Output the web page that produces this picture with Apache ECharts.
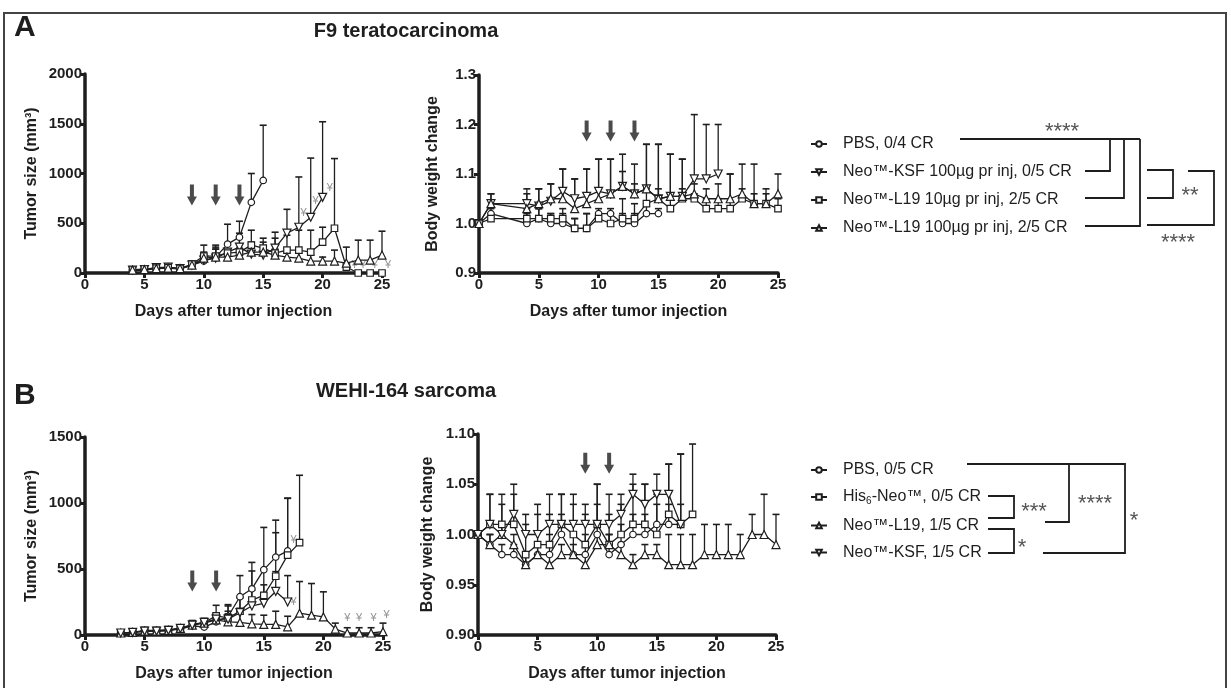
<!DOCTYPE html>
<html>
<head>
<meta charset="utf-8">
<title>F9 / WEHI-164 tumor growth and body weight</title>
<script src="https://cdn.jsdelivr.net/npm/echarts@6.0.0/dist/echarts.min.js"></script>
<style>
    html, body { margin: 0; padding: 0; background: #fff; }
    #chart { width: 1231px; height: 688px; }
</style>
</head>
<body>
<div id="chart"></div>
<script>
// ---------- data ----------
// A: F9 teratocarcinoma, tumor size (mm3)
const aTumorDays = [4, 5, 6, 7, 8, 9, 10, 11, 12, 13, 14, 15, 16, 17, 18, 19, 20, 21, 22, 23, 24, 25];
const aTumorPBS = [25, 30, 45, 50, 40, 80, 120, 160, 290, 360, 710, 930, null, null, null, null, null, null, null, null, null, null];
const aTumorPBSErr = [15, 20, 25, 25, 20, 35, 60, 100, 200, 160, 290, 555, 0, 0, 0, 0, 0, 0, 0, 0, 0, 0];
const aTumorKSF = [30, 35, 55, 60, 45, 80, 130, 150, 210, 260, 190, 180, 250, 400, 460, 560, 760, null, null, null, null, null];
const aTumorKSFErr = [10, 10, 15, 15, 10, 30, 60, 90, 90, 140, 100, 80, 100, 240, 505, 595, 760, 0, 0, 0, 0, 0];
const aTumorL19lo = [30, 40, 50, 55, 45, 90, 170, 170, 200, 210, 280, 250, 200, 230, 230, 210, 310, 450, 60, 0, 0, 0];
const aTumorL19loErr = [10, 15, 20, 20, 10, 30, 110, 110, 80, 150, 150, 100, 210, 150, 200, 220, 150, 700, 40, 0, 0, 0];
const aTumorL19hi = [30, 35, 45, 50, 45, 80, 150, 160, 160, 180, 210, 210, 180, 160, 150, 120, 120, 120, 100, 130, 130, 180];
const aTumorL19hiErr = [10, 10, 15, 15, 10, 25, 60, 80, 60, 70, 100, 100, 60, 50, 50, 60, 40, 110, 160, 200, 200, 240];

// A: body weight change
const aBodyDays = [0, 1, 4, 5, 6, 7, 8, 9, 10, 11, 12, 13, 14, 15, 16, 17, 18, 19, 20, 21, 22, 23, 24, 25];
const aBodyPBS = [1.00, 1.02, 1.00, 1.01, 1.00, 1.00, 0.99, 0.99, 1.02, 1.02, 1.00, 1.00, 1.02, 1.02, null, null, null, null, null, null, null, null, null, null];
const aBodyPBSErr = [0, 0.01, 0.02, 0.02, 0.02, 0.02, 0.02, 0.03, 0.01, 0.01, 0.02, 0.02, 0.02, 0.01, 0, 0, 0, 0, 0, 0, 0, 0, 0, 0];
const aBodyKSF = [1.00, 1.04, 1.04, 1.035, 1.045, 1.065, 1.05, 1.055, 1.065, 1.06, 1.075, 1.06, 1.07, 1.05, 1.055, 1.055, 1.09, 1.09, 1.10, null, null, null, null, null];
const aBodyKSFErr = [0, 0.02, 0.03, 0.035, 0.035, 0.045, 0.04, 0.055, 0.065, 0.07, 0.03, 0.02, 0.09, 0.11, 0.085, 0.075, 0.13, 0.11, 0.10, 0, 0, 0, 0, 0];
const aBodyL19lo = [1.00, 1.01, 1.01, 1.01, 1.01, 1.01, 0.99, 0.99, 1.01, 1.00, 1.01, 1.01, 1.04, 1.05, 1.03, 1.05, 1.05, 1.03, 1.03, 1.03, 1.05, 1.04, 1.04, 1.03];
const aBodyL19loErr = [0, 0.01, 0.02, 0.02, 0.01, 0.02, 0.02, 0.03, 0.01, 0.02, 0.04, 0.03, 0.03, 0.02, 0.03, 0.02, 0.01, 0.02, 0.02, 0.07, 0.02, 0.02, 0.02, 0.02];
const aBodyL19hi = [1.00, 1.04, 1.03, 1.04, 1.05, 1.05, 1.03, 1.04, 1.05, 1.06, 1.075, 1.06, 1.07, 1.05, 1.055, 1.055, 1.06, 1.05, 1.05, 1.05, 1.06, 1.04, 1.04, 1.06];
const aBodyL19hiErr = [0, 0.02, 0.03, 0.03, 0.03, 0.06, 0.06, 0.07, 0.08, 0.07, 0.065, 0.06, 0.09, 0.11, 0.085, 0.075, 0.02, 0.02, 0.03, 0.05, 0.06, 0.08, 0.03, 0.04];

// B: WEHI-164 sarcoma, tumor size (mm3)
const bTumorDays = [3, 4, 5, 6, 7, 8, 9, 10, 11, 12, 13, 14, 15, 16, 17, 18, 19, 20, 21, 22, 23, 24, 25];
const bTumorPBS = [15, 20, 30, 30, 35, 45, 70, 60, 100, 140, 290, 350, 495, 590, 637, null, null, null, null, null, null, null, null];
const bTumorPBSErr = [5, 10, 10, 10, 10, 20, 30, 30, 60, 80, 160, 200, 320, 280, 400, 0, 0, 0, 0, 0, 0, 0, 0];
const bTumorHis = [15, 20, 35, 35, 40, 50, 80, 95, 145, 130, 180, 265, 300, 445, 605, 700, null, null, null, null, null, null, null];
const bTumorHisErr = [5, 10, 10, 10, 10, 20, 30, 30, 80, 100, 100, 220, 200, 330, 430, 510, 0, 0, 0, 0, 0, 0, 0];
const bTumorL19 = [15, 20, 30, 30, 35, 50, 75, 90, 115, 100, 95, 85, 80, 80, 62, 165, 150, 137, 45, 15, 15, 15, 25];
const bTumorL19Err = [5, 10, 10, 10, 10, 20, 30, 30, 40, 60, 70, 70, 70, 100, 80, 240, 240, 190, 45, 40, 40, 40, 65];
const bTumorKSF = [15, 20, 30, 30, 35, 50, 75, 95, 120, 120, 170, 220, 240, 330, 250, null, null, null, null, null, null, null, null];
const bTumorKSFErr = [5, 10, 10, 10, 10, 20, 30, 30, 40, 60, 120, 120, 140, 150, 200, 0, 0, 0, 0, 0, 0, 0, 0];

// B: body weight change
const bBodyDays = [0, 1, 2, 3, 4, 5, 6, 7, 8, 9, 10, 11, 12, 13, 14, 15, 16, 17, 18, 19, 20, 21, 22, 23, 24, 25];
const bBodyPBS = [1.00, 0.99, 0.98, 0.98, 0.97, 0.98, 0.98, 1.00, 0.98, 0.98, 1.00, 0.98, 0.99, 1.00, 1.00, 1.01, 1.01, 1.01, null, null, null, null, null, null, null, null];
const bBodyPBSErr = [0, 0.01, 0.01, 0.01, 0.01, 0.01, 0.02, 0.02, 0.02, 0.02, 0.03, 0.02, 0.02, 0.02, 0.02, 0.02, 0.02, 0.02, 0, 0, 0, 0, 0, 0, 0, 0];
const bBodyHis = [1.00, 1.01, 1.01, 1.01, 0.98, 0.99, 0.99, 1.01, 1.00, 0.99, 1.01, 0.99, 1.00, 1.01, 1.01, 1.00, 1.02, 1.01, 1.02, null, null, null, null, null, null, null];
const bBodyHisErr = [0, 0.03, 0.03, 0.03, 0.03, 0.03, 0.03, 0.03, 0.03, 0.03, 0.04, 0.03, 0.03, 0.04, 0.04, 0.04, 0.05, 0.07, 0.07, 0, 0, 0, 0, 0, 0, 0];
const bBodyL19 = [1.00, 0.99, 1.00, 0.99, 0.97, 0.98, 0.97, 0.98, 0.98, 0.97, 0.99, 0.99, 0.98, 0.97, 0.98, 0.98, 0.97, 0.97, 0.97, 0.98, 0.98, 0.98, 0.98, 1.00, 1.00, 0.99];
const bBodyL19Err = [0, 0.01, 0.01, 0.01, 0.01, 0.01, 0.01, 0.01, 0.01, 0.01, 0.01, 0.01, 0.01, 0.01, 0.01, 0.01, 0.03, 0.03, 0.03, 0.03, 0.03, 0.03, 0.02, 0.02, 0.04, 0.03];
const bBodyKSF = [1.00, 1.01, 1.00, 1.02, 1.00, 1.00, 1.01, 1.01, 1.01, 1.01, 1.01, 1.01, 1.02, 1.04, 1.03, 1.04, 1.04, 1.01, null, null, null, null, null, null, null, null];
const bBodyKSFErr = [0, 0.03, 0.03, 0.03, 0.02, 0.03, 0.03, 0.03, 0.03, 0.02, 0.04, 0.03, 0.02, 0.02, 0.02, 0.02, 0.03, 0.07, 0, 0, 0, 0, 0, 0, 0, 0];

// injection days (arrows) and death marks (¥)
const aInjectionDays = [9, 11, 13];
const bInjectionDays = [9, 11];
const aDeathMarks = [[18.4, 600], [19.4, 720], [20.6, 850], [22.7, 80], [23.4, 80], [24.4, 80], [25.5, 80]];
const bDeathMarks = [[17.5, 720], [17.5, 250], [22.0, 130], [23.0, 130], [24.2, 130], [25.3, 150]];

// legend names
const aNames = ['PBS, 0/4 CR', 'Neo™-KSF 100µg pr inj, 0/5 CR', 'Neo™-L19 10µg pr inj, 2/5 CR', 'Neo™-L19 100µg pr inj, 2/5 CR'];
const bNames = ['PBS, 0/5 CR', 'His6-Neo™, 0/5 CR', 'Neo™-L19, 1/5 CR', 'Neo™-KSF, 1/5 CR'];

// ---------- chart ----------
const INK = '#1e1e1e';
const FONT = '"Liberation Sans", Arial, sans-serif';
const DOWN_TRI = 'path://M0,0L10,0L5,9Z';
const ARROW = 'path://M3,0L7,0L7,12L10,12L5,21L0,12L3,12Z';

function pairs(days, vals, errs) {
    let out = [];
    days.forEach(function (d, i) {
        if (vals[i] == null) return;
        out.push(errs ? [d, vals[i], vals[i] + errs[i]] : [d, vals[i]]);
    });
    return out;
}

function lineSeries(name, symbol, g, days, vals) {
    let size = symbol === 'triangle' || symbol === DOWN_TRI ? 8 : 6.5;
    return {
        name: name,
        type: 'line',
        xAxisIndex: g,
        yAxisIndex: g,
        data: pairs(days, vals),
        symbol: symbol,
        symbolSize: size,
        showAllSymbol: true,
        lineStyle: { color: INK, width: 1.3 },
        itemStyle: { color: '#fff', borderColor: INK, borderWidth: 1.2 },
        z: 3,
        animation: false,
    };
}

function errorSeries(g, days, vals, errs) {
    return {
        type: 'custom',
        xAxisIndex: g,
        yAxisIndex: g,
        data: pairs(days, vals, errs),
        encode: { x: 0, y: [1, 2] },
        silent: true,
        z: 2,
        animation: false,
        renderItem: function (params, api) {
            let p0 = api.coord([api.value(0), api.value(1)]);
            let p1 = api.coord([api.value(0), api.value(2)]);
            return {
                type: 'group',
                children: [
                    { type: 'line', shape: { x1: p0[0], y1: p0[1], x2: p1[0], y2: p1[1] }, style: { stroke: INK, lineWidth: 1.3 } },
                    { type: 'line', shape: { x1: p1[0] - 3.5, y1: p1[1], x2: p1[0] + 3.5, y2: p1[1] }, style: { stroke: INK, lineWidth: 1.6 } },
                ],
            };
        },
    };
}

function arrowSeries(g, days, level) {
    return {
        type: 'scatter',
        xAxisIndex: g,
        yAxisIndex: g,
        data: days.map(function (d) { return [d, level]; }),
        symbol: ARROW,
        symbolSize: [10, 21],
        itemStyle: { color: INK },
        silent: true,
        animation: false,
    };
}

function deathSeries(g, marks) {
    return {
        type: 'scatter',
        xAxisIndex: g,
        yAxisIndex: g,
        data: marks,
        symbolSize: 0,
        clip: false,
        silent: true,
        animation: false,
        label: { show: true, position: 'inside', formatter: '¥', color: '#777', fontSize: 11, fontFamily: FONT },
    };
}

function xAxis(g) {
    return {
        type: 'value', gridIndex: g, min: 0, max: 25, interval: 5,
        name: 'Days after tumor injection', nameLocation: 'middle', nameGap: 31,
        nameTextStyle: { fontWeight: 'bold', fontSize: 16, color: INK, fontFamily: FONT },
        axisLine: { lineStyle: { color: INK, width: 3.5 } },
        axisTick: { length: 5, lineStyle: { color: INK, width: 3 } },
        axisLabel: { fontWeight: 'bold', fontSize: 15, color: INK, fontFamily: FONT, margin: 4 },
        splitLine: { show: false },
    };
}

function yAxis(g, name, min, max, interval, digits, gap) {
    return {
        type: 'value', gridIndex: g, min: min, max: max, interval: interval,
        name: name, nameLocation: 'middle', nameGap: gap,
        nameTextStyle: { fontWeight: 'bold', fontSize: 16, color: INK, fontFamily: FONT },
        axisLine: { show: true, lineStyle: { color: INK, width: 3.5 } },
        axisTick: { show: true, length: 5, lineStyle: { color: INK, width: 3 } },
        axisLabel: {
            fontWeight: 'bold', fontSize: 15, color: INK, fontFamily: FONT, margin: 3,
            formatter: function (v) { return digits ? v.toFixed(digits) : String(Math.round(v)); },
        },
        splitLine: { show: false },
    };
}

function legend(names, top, gap) {
    return {
        data: names,
        orient: 'vertical',
        left: 805,
        top: top,
        itemWidth: 16,
        itemHeight: 7,
        itemGap: gap,
        selectedMode: false,
        textStyle: {
            fontSize: 16, color: INK, fontFamily: FONT, lineHeight: 16, padding: [0, 0, 0, 11],
            rich: { s: { fontSize: 10, fontFamily: FONT, color: INK, padding: [9, 0, 0, 0] } },
        },
        formatter: function (n) { return n.replace('His6', 'His{s|6}'); },
    };
}

function bracket(points) {
    return { type: 'polyline', shape: { points: points }, style: { stroke: INK, lineWidth: 1.8, fill: null } };
}

// asterisk glyphs sit high in the em box, so they are nudged down a little
function stars(text, x, y) {
    return { type: 'text', x: x, y: y + 5, style: { text: text, fill: '#555', font: '22px ' + FONT, textAlign: 'center', textVerticalAlign: 'middle' } };
}

let myChart = echarts.init(document.getElementById('chart'));

let option = {
    backgroundColor: '#fff',
    animation: false,
    textStyle: { fontFamily: FONT },
    grid: [
        { left: 85, top: 74, width: 297, height: 199 },
        { left: 479, top: 75, width: 299, height: 198 },
        { left: 85, top: 437, width: 298, height: 198 },
        { left: 478, top: 434, width: 298, height: 201 },
    ],
    xAxis: [xAxis(0), xAxis(1), xAxis(2), xAxis(3)],
    yAxis: [
        yAxis(0, 'Tumor size (mm³)', 0, 2000, 500, 0, 45),
        yAxis(1, 'Body weight change', 0.9, 1.3, 0.1, 1, 38),
        yAxis(2, 'Tumor size (mm³)', 0, 1500, 500, 0, 45),
        yAxis(3, 'Body weight change', 0.9, 1.1, 0.05, 2, 42),
    ],
    legend: [legend(aNames, 131, 12), legend(bNames, 457, 11)],
    series: [
        // A tumor
        errorSeries(0, aTumorDays, aTumorPBS, aTumorPBSErr),
        errorSeries(0, aTumorDays, aTumorKSF, aTumorKSFErr),
        errorSeries(0, aTumorDays, aTumorL19lo, aTumorL19loErr),
        errorSeries(0, aTumorDays, aTumorL19hi, aTumorL19hiErr),
        lineSeries(aNames[0], 'circle', 0, aTumorDays, aTumorPBS),
        lineSeries(aNames[1], DOWN_TRI, 0, aTumorDays, aTumorKSF),
        lineSeries(aNames[2], 'rect', 0, aTumorDays, aTumorL19lo),
        lineSeries(aNames[3], 'triangle', 0, aTumorDays, aTumorL19hi),
        arrowSeries(0, aInjectionDays, 785),
        deathSeries(0, aDeathMarks),
        // A body weight
        errorSeries(1, aBodyDays, aBodyPBS, aBodyPBSErr),
        errorSeries(1, aBodyDays, aBodyKSF, aBodyKSFErr),
        errorSeries(1, aBodyDays, aBodyL19lo, aBodyL19loErr),
        errorSeries(1, aBodyDays, aBodyL19hi, aBodyL19hiErr),
        lineSeries(aNames[0], 'circle', 1, aBodyDays, aBodyPBS),
        lineSeries(aNames[1], DOWN_TRI, 1, aBodyDays, aBodyKSF),
        lineSeries(aNames[2], 'rect', 1, aBodyDays, aBodyL19lo),
        lineSeries(aNames[3], 'triangle', 1, aBodyDays, aBodyL19hi),
        arrowSeries(1, aInjectionDays, 1.187),
        // B tumor
        errorSeries(2, bTumorDays, bTumorPBS, bTumorPBSErr),
        errorSeries(2, bTumorDays, bTumorHis, bTumorHisErr),
        errorSeries(2, bTumorDays, bTumorL19, bTumorL19Err),
        errorSeries(2, bTumorDays, bTumorKSF, bTumorKSFErr),
        lineSeries(bNames[0], 'circle', 2, bTumorDays, bTumorPBS),
        lineSeries(bNames[1], 'rect', 2, bTumorDays, bTumorHis),
        lineSeries(bNames[2], 'triangle', 2, bTumorDays, bTumorL19),
        lineSeries(bNames[3], DOWN_TRI, 2, bTumorDays, bTumorKSF),
        arrowSeries(2, bInjectionDays, 410),
        deathSeries(2, bDeathMarks),
        // B body weight
        errorSeries(3, bBodyDays, bBodyPBS, bBodyPBSErr),
        errorSeries(3, bBodyDays, bBodyHis, bBodyHisErr),
        errorSeries(3, bBodyDays, bBodyL19, bBodyL19Err),
        errorSeries(3, bBodyDays, bBodyKSF, bBodyKSFErr),
        lineSeries(bNames[0], 'circle', 3, bBodyDays, bBodyPBS),
        lineSeries(bNames[1], 'rect', 3, bBodyDays, bBodyHis),
        lineSeries(bNames[2], 'triangle', 3, bBodyDays, bBodyL19),
        lineSeries(bNames[3], DOWN_TRI, 3, bBodyDays, bBodyKSF),
        arrowSeries(3, bInjectionDays, 1.071),
    ],
    graphic: [
        // figure frame
        { type: 'rect', shape: { x: 4, y: 13, width: 1222, height: 700 }, style: { stroke: '#444', lineWidth: 2, fill: null } },
        { type: 'text', x: 14, y: 28, style: { text: 'A', font: 'bold 30px ' + FONT, fill: INK, textVerticalAlign: 'middle' } },
        { type: 'text', x: 14, y: 396, style: { text: 'B', font: 'bold 30px ' + FONT, fill: INK, textVerticalAlign: 'middle' } },
        { type: 'text', x: 406, y: 31, style: { text: 'F9 teratocarcinoma', font: 'bold 20px ' + FONT, fill: INK, textAlign: 'center', textVerticalAlign: 'middle' } },
        { type: 'text', x: 406, y: 391, style: { text: 'WEHI-164 sarcoma', font: 'bold 20px ' + FONT, fill: INK, textAlign: 'center', textVerticalAlign: 'middle' } },
        // A significance brackets
        bracket([[960, 139], [1140, 139]]),
        bracket([[1085, 171], [1110, 171], [1110, 139]]),
        bracket([[1085, 198], [1124, 198], [1124, 139]]),
        bracket([[1085, 226], [1140, 226], [1140, 139]]),
        bracket([[1147, 170], [1173, 170], [1173, 198], [1147, 198]]),
        bracket([[1188, 171], [1214, 171], [1214, 225], [1147, 225]]),
        stars('****', 1062, 127),
        stars('**', 1190, 191),
        stars('****', 1178, 238),
        // B significance brackets
        bracket([[967, 464], [1125, 464], [1125, 553], [1043, 553]]),
        bracket([[1069, 464], [1069, 522], [1045, 522]]),
        bracket([[988, 496], [1014, 496], [1014, 518], [988, 518]]),
        bracket([[988, 529], [1014, 529], [1014, 553], [988, 553]]),
        stars('****', 1095, 499),
        stars('*', 1134, 516),
        stars('***', 1034, 507),
        stars('*', 1022, 543),
    ],
};

myChart.setOption(option);
window.addEventListener('resize', function () {
    myChart.resize();
});
</script>
</body>
</html>
